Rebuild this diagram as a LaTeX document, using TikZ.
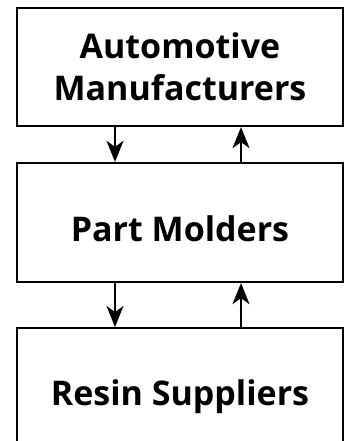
\documentclass[tikz,border=0pt]{standalone}
\usepackage{fontspec}
\setmainfont{Open Sans}[BoldFont={* Bold}]
\usetikzlibrary{arrows.meta}
\begin{document}
\begin{tikzpicture}[x=1pt,y=-1pt,
  box/.style={draw, line width=2.3pt, minimum width=326pt, inner sep=0pt, align=center, font=\fontsize{34}{42}\selectfont\bfseries},
  flow/.style={line width=2pt, -{Stealth[length=21pt,width=17pt,inset=6pt]}}]
\useasboundingbox (0,0) rectangle (347,441);
\node[box, minimum height=118pt] (am) at (180,67) {Automotive\\Manufacturers};
\node[box, minimum height=119pt, text height=37pt, text depth=0pt] (pm) at (180,222.5) {Part Molders};
\node[box, minimum height=138pt, anchor=north] (rs) at (180,327) {Resin Suppliers};
\draw[flow] (am.south -| 115,0) -- (pm.north -| 115,0);
\draw[flow] (pm.north -| 241,0) -- (am.south -| 241,0);
\draw[flow] (pm.south -| 115,0) -- (rs.north -| 115,0);
\draw[flow] (rs.north -| 241,0) -- (pm.south -| 241,0);
\end{tikzpicture}
\end{document}
